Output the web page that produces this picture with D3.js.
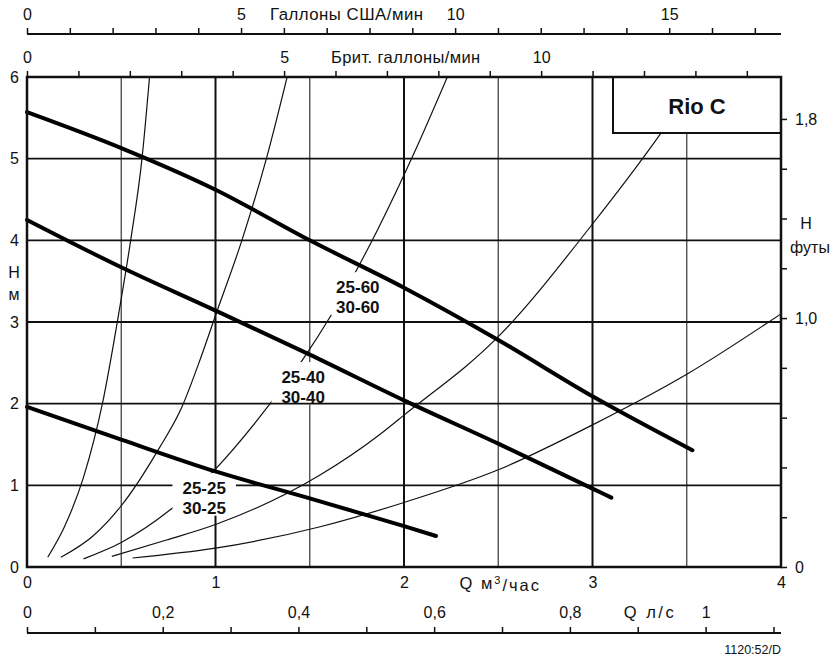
<!DOCTYPE html>
<html>
<head>
<meta charset="utf-8">
<script src="https://cdn.jsdelivr.net/npm/d3@7/dist/d3.min.js"></script>
<style>
  body { margin: 0; background: #fff; }
  svg text { font-family: "Liberation Sans", Arial, sans-serif; fill: #111; }
  .axis path, .axis line { stroke: #111; }
</style>
</head>
<body>
<div id="chart"></div>
<script>
// flow axis (m3/h) and head axis (m)
var flowTicks = [0, 1, 2, 3, 4];
var headTicks = [0, 1, 2, 3, 4, 5, 6];
var gridFlowMajor = [1, 2, 3];
var gridFlowMinor = [0.5, 1.5, 2.5, 3.5];
var gridHead = [1, 3, 4, 5];
var gridHeadOnTop = [2]; // runs over the label box of 30-40

// secondary scales
var usGalTicks = [0, 1, 2, 3, 4, 5, 6, 7, 8, 9, 10, 11, 12, 13, 14, 15, 16, 17];
var usGalLabels = [0, 5, 10, 15];
var ukGalTicks = [0, 1, 2, 3, 4, 5, 6, 7, 8, 9, 10, 11, 12, 13, 14];
var ukGalLabels = [0, 5, 10];
var lsTicks = [0, 0.1, 0.2, 0.3, 0.4, 0.5, 0.6, 0.7, 0.8, 0.9, 1.0, 1.1];
var lsLabels = [0, 0.2, 0.4, 0.6, 0.8, 1];
var ftTicks = [0, 0.2, 0.4, 0.6, 0.8, 1.0, 1.2, 1.4, 1.6, 1.8];
var ftLabels = ["0", "1,0", "1,8"];
var ftLabelAt = [0, 1.0, 1.8];

// pump curves [Q m3/h, H m]
var pump60 = [[0, 5.57], [0.5, 5.13], [1, 4.62], [1.5, 4.0], [2, 3.42], [2.5, 2.78], [3, 2.09], [3.53, 1.43]];
var pump40 = [[0, 4.25], [0.5, 3.67], [1, 3.14], [1.5, 2.6], [2, 2.04], [2.5, 1.51], [3, 0.96], [3.1, 0.85]];
var pump25 = [[0, 1.96], [0.5, 1.56], [1, 1.17], [1.5, 0.84], [1.87, 0.59], [2, 0.5], [2.17, 0.38]];

// system curves
var sys1 = [[0.11, 0.12], [0.2, 0.5], [0.3, 1.1], [0.4, 2.0], [0.49, 3.15], [0.55, 4.0], [0.61, 5.0], [0.65, 6.0]];
var sys2 = [[0.18, 0.12], [0.35, 0.38], [0.5, 0.75], [0.7, 1.45], [0.82, 1.95], [0.92, 2.55], [1.0, 3.08], [1.14, 4.0], [1.27, 5.0], [1.38, 6.0]];
var sys3 = [[0.3, 0.1], [0.5, 0.3], [0.76, 0.7], [0.97, 1.13], [1.3, 2.03], [1.46, 2.53], [1.61, 3.07], [1.74, 3.6], [1.86, 4.13], [2.05, 5.05], [2.23, 6.0]];
var sys4 = [[0.45, 0.13], [0.74, 0.33], [1.0, 0.52], [1.55, 1.12], [1.87, 1.62], [2.0, 1.86], [2.5, 2.82], [3.0, 4.2], [3.35, 5.27], [3.45, 5.6]];
var sys5 = [[0.56, 0.11], [1.0, 0.23], [1.55, 0.49], [2.0, 0.79], [2.5, 1.19], [3.0, 1.74], [3.5, 2.36], [4.0, 3.1]];

// curve labels: lines of text + anchor point [Q, H]
var curveLabels = [
  { lines: ["25-60", "30-60"], at: [1.755, 3.3] },
  { lines: ["25-40", "30-40"], at: [1.465, 2.2] },
  { lines: ["25-25", "30-25"], at: [0.94, 0.84] }
];

var width = 835;
var height = 662;
var m = { l: 27, t: 77, r: 54, b: 95 };

var svg = d3
  .select("#chart")
  .append("svg")
  .attr("width", width)
  .attr("height", height);

var x = d3.scaleLinear().domain([0, 4]).range([m.l, width - m.r]);
var y = d3.scaleLinear().domain([0, 6]).range([height - m.b, m.t]);

// unit conversions off the m3/h and m scales
var xUs = d3.scaleLinear().domain([0, 4 * 4.4029]).range(x.range());
var xUk = d3.scaleLinear().domain([0, 4 * 3.6662]).range(x.range());
var xLs = d3.scaleLinear().domain([0, 4 / 3.6]).range(x.range());
var yFt = d3.scaleLinear().domain([0, 6 / 3.048]).range(y.range());

var x0 = x(0), x1 = x(4), y0 = y(0), y1 = y(6);

// layers, bottom to top
var gridG = svg.append("g");
var sysG = svg.append("g");
var bgG = svg.append("g");
var gridTopG = svg.append("g");
var pumpG = svg.append("g");
var textG = svg.append("g");

gridG.selectAll(".vmin")
  .data(gridFlowMinor)
  .enter()
  .append("line")
  .attr("x1", (d) => x(d)).attr("x2", (d) => x(d))
  .attr("y1", y0).attr("y2", y1)
  .attr("stroke", "#444")
  .attr("stroke-width", 1.3);
gridG.selectAll(".vmaj")
  .data(gridFlowMajor)
  .enter()
  .append("line")
  .attr("x1", (d) => x(d)).attr("x2", (d) => x(d))
  .attr("y1", y0).attr("y2", y1)
  .attr("stroke", "#111")
  .attr("stroke-width", 2);
gridG.selectAll(".h")
  .data(gridHead)
  .enter()
  .append("line")
  .attr("x1", x0).attr("x2", x1)
  .attr("y1", (d) => y(d)).attr("y2", (d) => y(d))
  .attr("stroke", "#111")
  .attr("stroke-width", 1.9);
gridTopG.selectAll("line")
  .data(gridHeadOnTop)
  .enter()
  .append("line")
  .attr("x1", x0).attr("x2", x1)
  .attr("y1", (d) => y(d)).attr("y2", (d) => y(d))
  .attr("stroke", "#111")
  .attr("stroke-width", 1.9);

var line = d3
  .line()
  .x((d) => x(d[0]))
  .y((d) => y(d[1]))
  .curve(d3.curveMonotoneX);

svg.append("clipPath").attr("id", "clip")
  .append("rect")
  .attr("x", x0).attr("y", y1)
  .attr("width", x1 - x0).attr("height", y0 - y1);

sysG.selectAll("path")
  .data([sys1, sys2, sys3, sys4, sys5])
  .enter()
  .append("path")
  .attr("d", line)
  .attr("clip-path", "url(#clip)")
  .attr("fill", "none")
  .attr("stroke", "#111")
  .attr("stroke-width", 1.2);

// white boxes behind labels knock out grid and system curve
curveLabels.forEach((d) => {
  var t = textG.append("text")
    .attr("x", x(d.at[0]))
    .attr("y", y(d.at[1]))
    .attr("text-anchor", "middle")
    .style("font-size", "17px")
    .style("font-weight", "bold");
  d.lines.forEach((s, i) => {
    t.append("tspan")
      .attr("x", x(d.at[0]))
      .attr("dy", i === 0 ? "-0.25em" : "1.15em")
      .text(s);
  });
  var bb = t.node().getBBox();
  bgG.append("rect")
    .attr("x", bb.x - 10)
    .attr("y", bb.y - 6)
    .attr("width", bb.width + 20)
    .attr("height", bb.height + 4)
    .attr("fill", "#fff");
});

pumpG.selectAll("path")
  .data([pump60, pump40, pump25])
  .enter()
  .append("path")
  .attr("d", line)
  .attr("fill", "none")
  .attr("stroke", "#000")
  .attr("stroke-width", 4)
  .attr("stroke-linecap", "round");

// Rio C box
var boxW = 168;
var boxH = 56;
svg.append("rect")
  .attr("x", x1 - boxW)
  .attr("y", y1)
  .attr("width", boxW)
  .attr("height", boxH)
  .attr("fill", "#fff")
  .attr("stroke", "#111")
  .attr("stroke-width", 2);
svg.append("text")
  .attr("x", x1 - boxW / 2)
  .attr("y", y1 + 37)
  .attr("text-anchor", "middle")
  .style("font-size", "22px")
  .style("font-weight", "bold")
  .text("Rio C");

// frame
svg.append("rect")
  .attr("x", x0).attr("y", y1)
  .attr("width", x1 - x0).attr("height", y0 - y1)
  .attr("fill", "none")
  .attr("stroke", "#111")
  .attr("stroke-width", 2.5);

var fmt = (d) => String(d).replace(".", ",");

// left H (m)
svg.append("g")
  .attr("class", "axis")
  .attr("transform", `translate(${x0},0)`)
  .call(d3.axisLeft(y).tickValues(headTicks).tickSize(0).tickPadding(8).tickFormat(d3.format("d")))
  .call((g) => g.select(".domain").remove())
  .selectAll("text")
  .style("font-size", "16px");

svg.append("text").attr("x", 14).attr("y", 278).attr("text-anchor", "middle")
  .style("font-size", "16px").text("H");
svg.append("text").attr("x", 14).attr("y", 300).attr("text-anchor", "middle")
  .style("font-size", "16px").text("м");

// right H (feet)
svg.append("g")
  .attr("class", "axis")
  .attr("transform", `translate(${x1},0)`)
  .call(
    d3.axisRight(yFt)
      .tickValues(ftTicks)
      .tickSize(6)
      .tickPadding(8)
      .tickFormat((d) => {
        var i = ftLabelAt.findIndex((v) => Math.abs(v - d) < 1e-6);
        return i >= 0 ? ftLabels[i] : "";
      })
  )
  .call((g) => g.select(".domain").remove())
  .call((g) => g.selectAll("line").attr("stroke-width", 1.5))
  .selectAll("text")
  .style("font-size", "16px");

svg.append("text").attr("x", 806).attr("y", 229).attr("text-anchor", "middle")
  .style("font-size", "16px").text("H");
svg.append("text").attr("x", 810).attr("y", 253).attr("text-anchor", "middle")
  .style("font-size", "16px").text("футы");

// bottom Q (m3/h)
svg.append("g")
  .attr("class", "axis")
  .attr("transform", `translate(0,${y0})`)
  .call(d3.axisBottom(x).tickValues(flowTicks).tickSize(0).tickPadding(10).tickFormat(d3.format("d")))
  .call((g) => g.select(".domain").remove())
  .selectAll("text")
  .style("font-size", "16px");

var qm = svg.append("text")
  .attr("x", x(2.5) + 2)
  .attr("y", 589)
  .attr("text-anchor", "middle")
  .style("font-size", "16.5px")
  .style("letter-spacing", "2px");
qm.append("tspan").text("Q м");
qm.append("tspan").attr("dy", "-0.45em").style("font-size", "11px").text("3");
qm.append("tspan").attr("dy", "0.45em").text("/час");

// bottom Q (l/s)
var lsY = 633;
svg.append("g")
  .attr("class", "axis")
  .attr("transform", `translate(0,${lsY})`)
  .call(
    d3.axisTop(xLs)
      .tickValues(lsTicks)
      .tickSize(6)
      .tickPadding(9)
      .tickSizeOuter(0)
      .tickFormat((d) => (lsLabels.some((v) => Math.abs(v - d) < 1e-6) ? fmt(d) : ""))
  )
  .call((g) => g.select(".domain").attr("d", `M${x0},0H${x1}`).attr("stroke-width", 2.2))
  .call((g) => g.selectAll("line").attr("stroke-width", 1.5))
  .selectAll("text")
  .style("font-size", "16px");

svg.append("text")
  .attr("x", 650)
  .attr("y", lsY - 15)
  .attr("text-anchor", "middle")
  .style("font-size", "16.5px")
  .style("letter-spacing", "2.5px")
  .text("Q л/с");

// top: US gallons
var usY = 34;
svg.append("g")
  .attr("class", "axis")
  .attr("transform", `translate(0,${usY})`)
  .call(
    d3.axisTop(xUs)
      .tickValues(usGalTicks)
      .tickSize(6)
      .tickPadding(8)
      .tickFormat((d) => (usGalLabels.indexOf(d) >= 0 ? d : ""))
  )
  .call((g) => g.select(".domain").attr("d", `M${x0},0H${x1}`).attr("stroke-width", 2.2))
  .call((g) => g.selectAll("line").attr("stroke-width", 1.5))
  .selectAll("text")
  .style("font-size", "16px");

svg.append("text")
  .attr("x", 270)
  .attr("y", 20)
  .style("font-size", "16.8px")
  .style("letter-spacing", "0.5px")
  .text("Галлоны США/мин");

// top: UK gallons on the frame top
svg.append("g")
  .attr("class", "axis")
  .attr("transform", `translate(0,${y1})`)
  .call(
    d3.axisTop(xUk)
      .tickValues(ukGalTicks)
      .tickSize(6)
      .tickPadding(8)
      .tickFormat((d) => (ukGalLabels.indexOf(d) >= 0 ? d : ""))
  )
  .call((g) => g.select(".domain").remove())
  .call((g) => g.selectAll("line").attr("stroke-width", 1.5))
  .selectAll("text")
  .style("font-size", "16px");

svg.append("text")
  .attr("x", 331)
  .attr("y", 63)
  .style("font-size", "16.5px")
  .style("letter-spacing", "0.4px")
  .text("Брит. галлоны/мин");

svg.append("text")
  .attr("x", x1)
  .attr("y", 654)
  .attr("text-anchor", "end")
  .style("font-size", "12.5px")
  .text("1120:52/D");
</script>
</body>
</html>
